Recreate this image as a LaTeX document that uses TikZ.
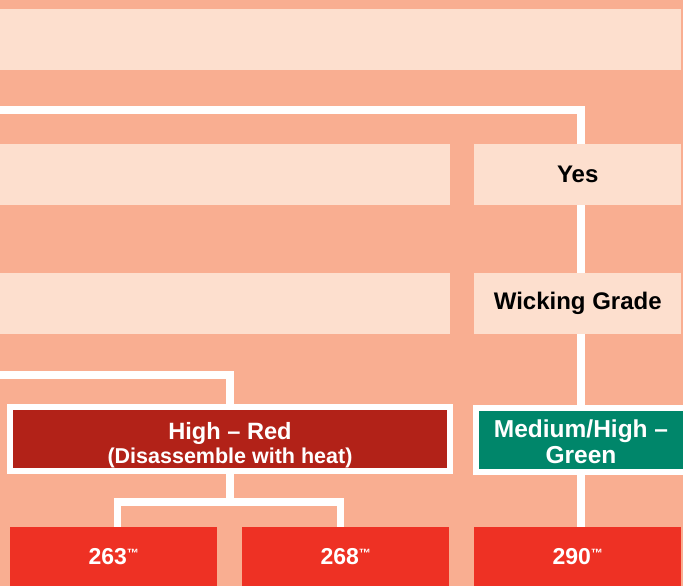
\documentclass[tikz,border=0pt]{standalone}
\usepackage{fontspec}
\setmainfont{Liberation Sans}
\usetikzlibrary{positioning,backgrounds}

\definecolor{salmon}{HTML}{F9AE91}
\definecolor{bandpale}{HTML}{FDDFCE}
\definecolor{hired}{HTML}{B22218}
\definecolor{medgreen}{HTML}{00866A}
\definecolor{prodred}{HTML}{EE3124}

\newcommand{\tm}{\raisebox{7.5pt}{\fontsize{12}{12}\selectfont ™}}

\begin{document}
\begin{tikzpicture}[
    x=1pt, y=-1pt,
    band/.style={fill=bandpale, inner sep=0pt, anchor=north west, minimum height=61pt},
    ans/.style={band, minimum width=207pt, font=\bfseries\fontsize{24}{28}\selectfont, text=black},
    grade/.style={draw=white, line width=6pt, inner sep=0pt, minimum height=64pt, align=center, text=white, font=\bfseries\fontsize{23.6}{26}\selectfont},
    prod/.style={fill=prodred, inner sep=0pt, anchor=north west, minimum width=207pt, minimum height=59pt, text=white, font=\bfseries\fontsize{23}{26}\selectfont},
    link/.style={draw=white, line width=7.5pt},
]
\useasboundingbox (0,0) rectangle (683,586);

% --- Question bands ---
\node[band, minimum width=681pt] (q1) at (0,9) {};
\node[band, minimum width=450pt] (q2) at (0,144) {};
\node[ans] (yes) at (474,144) {Yes};
\node[band, minimum width=450pt] (q3) at (0,273) {};
\node[ans] (wick) at (474,273) {Wicking Grade};

% --- Strength grades ---
\node[grade, fill=hired, minimum width=440pt] (high) at (230,439)
    {\rule{0pt}{30pt}High -- Red\\[-2pt]{\fontsize{21.5}{24}\selectfont(Disassemble with heat)}};
\node[grade, fill=medgreen, minimum width=210pt, font=\bfseries\fontsize{24.5}{26}\selectfont] (medhigh) at (581,440)
    {\rule{0pt}{22pt}Medium/High --\\Green};

% --- Products ---
\node[prod] (p263) at (10,527) {263\tm};
\node[prod] (p268) at (242,527) {268\tm};
\node[prod] (p290) at (474,527) {290\tm};

% --- Free ends at the left edge ---
\coordinate (in1) at (0,110);
\coordinate (in2) at (0,375);
\coordinate (fork) at ([yshift=-28pt]high.south);

% === Connectors (behind the bands) ===
\begin{scope}[on background layer]
\fill[salmon] (0,0) rectangle (683,586);
\draw[link] (in1) -| (medhigh.north);
\draw[link] (in2) -| (high.north);
\draw[link] (high.south) -- (fork);
\draw[link] ([xshift=4pt]p263.north) |- (fork) -| ([xshift=-5pt]p268.north);
\draw[link] (medhigh.south) -- (medhigh.south |- p290.north);
\end{scope}
\end{tikzpicture}
\end{document}
